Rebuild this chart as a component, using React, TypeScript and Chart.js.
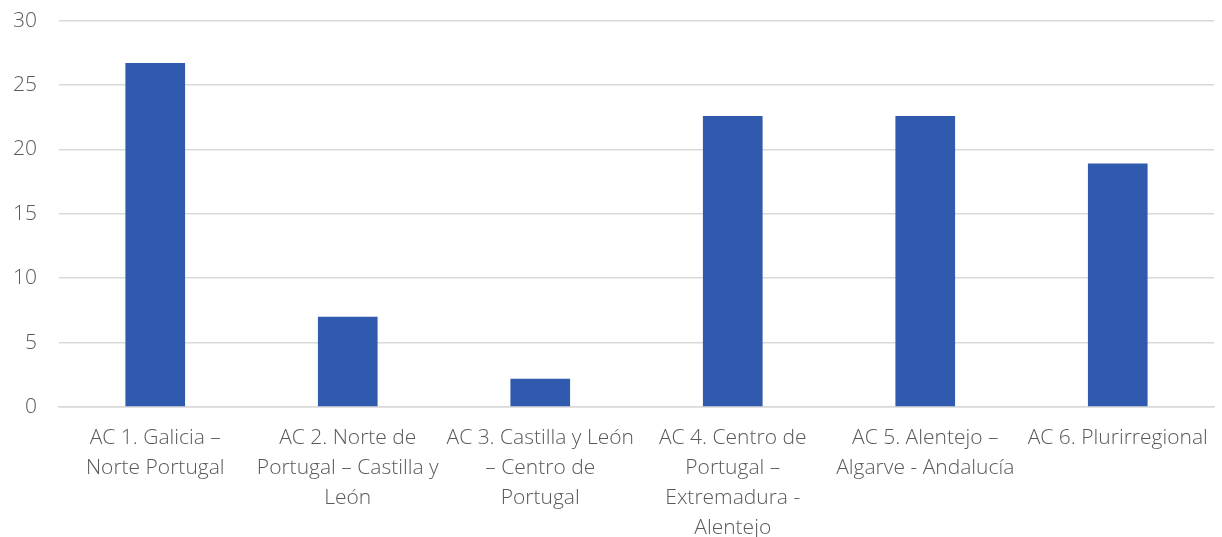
import React, { useEffect, useRef } from "react";
import { Chart, registerables } from "chart.js";

Chart.register(...registerables);

const categories: string[][] = [
  ["AC 1. Galicia –", "Norte Portugal"],
  ["AC 2. Norte de", "Portugal – Castilla y", "León"],
  ["AC 3. Castilla y León", "– Centro de", "Portugal"],
  ["AC 4. Centro de", "Portugal –", "Extremadura -", "Alentejo"],
  ["AC 5. Alentejo –", "Algarve - Andalucía"],
  ["AC 6. Plurirregional"],
];
const values: number[] = [26.7, 7.0, 2.2, 22.6, 22.6, 18.9];
const yMin = 0;
const yMax = 30;
const yStep = 5;

export default function App() {
  const ref = useRef<HTMLCanvasElement | null>(null);
  useEffect(() => {
    if (!ref.current) return;
    const family = "'Open Sans', 'Noto Sans', sans-serif";
    const chart = new Chart(ref.current, {
      type: "bar",
      data: {
        labels: categories,
        datasets: [
          {
            data: values,
            backgroundColor: "#2f5aae",
            barPercentage: 0.31,
            categoryPercentage: 1,
          },
        ],
      },
      options: {
        animation: false,
        responsive: false,
        maintainAspectRatio: false,
        layout: { padding: { top: 7, right: 8, left: 0, bottom: 0 } },
        plugins: { legend: { display: false }, tooltip: { enabled: false } },
        scales: {
          x: {
            grid: { display: false },
            border: { display: true, color: "#d9d9d9", width: 1.5 },
            ticks: {
              color: "#595959",
              font: { family, size: 21, weight: 300 as any, lineHeight: "30px" as any },
              maxRotation: 0,
              autoSkip: false,
              padding: 8,
            },
            afterFit: (s: any) => {
              s.height = 130;
            },
          },
          y: {
            min: yMin,
            max: yMax,
            ticks: {
              stepSize: yStep,
              color: "#595959",
              font: { family, size: 21, weight: 300 as any, lineHeight: 1.2 },
              padding: 22,
            },
            grid: { color: "#d9d9d9", lineWidth: 1.5, drawTicks: false },
            border: { display: false },
            afterFit: (s: any) => {
              s.width = 59;
            },
          },
        },
      },
    });
    return () => chart.destroy();
  }, []);
  return (
    <div style={{ position: "fixed", left: 0, top: 0, width: 1222, height: 537, background: "#fff", overflow: "hidden" }}>
      <canvas
        ref={ref}
        width={1222}
        height={551}
        style={{ display: "block", width: 1222, height: 551, marginTop: -14 }}
      />
    </div>
  );
}
